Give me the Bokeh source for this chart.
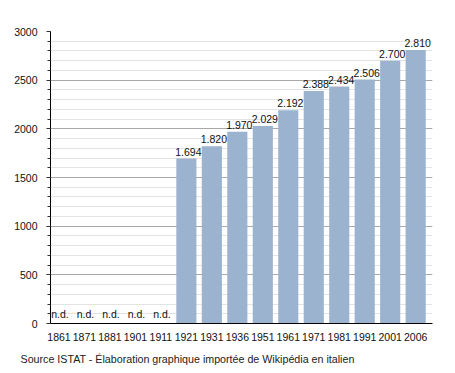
from bokeh.plotting import figure
from bokeh.models import Range1d, FixedTicker, SingleIntervalTicker, ColumnDataSource, LabelSet, Title
from bokeh.core.properties import value
from bokeh.embed import file_html
from bokeh.resources import INLINE

years = ["1861", "1871", "1881", "1901", "1911", "1921", "1931", "1936",
         "1951", "1961", "1971", "1981", "1991", "2001", "2006"]
population = [None, None, None, None, None, 1694, 1820, 1970,
              2029, 2192, 2388, 2434, 2506, 2700, 2810]
footer = "Source ISTAT - Élaboration graphique importée de Wikipédia en italien"

FONT = "Liberation Sans"

idx = list(range(len(years)))
bar_x = [i for i, v in zip(idx, population) if v is not None]
bar_y = [v for v in population if v is not None]
bar_lbl = ["{:,}".format(v).replace(",", ".") for v in bar_y]
nd_x = [i for i, v in zip(idx, population) if v is None]

p = figure(width=440, height=372, output_backend="svg", toolbar_location=None,
           x_range=Range1d(-0.333, 14.66), y_range=Range1d(0, 3000),
           min_border_left=50, min_border_right=8, min_border_top=31, min_border_bottom=48)
p.outline_line_color = None
p.background_fill_color = "white"

src = ColumnDataSource(dict(x=bar_x, top=bar_y, lbl=bar_lbl))
p.vbar(x="x", top="top", bottom=0, width=0.79, source=src,
       fill_color="#9bb3cf", line_color=None)
p.add_layout(LabelSet(x="x", y="top", text="lbl", source=src, text_align="center",
                      text_baseline="bottom", x_offset=2, y_offset=3,
                      text_font_size="10.5px", text_color="#111111", text_font=value(FONT)))

nd_src = ColumnDataSource(dict(x=nd_x, y=[0] * len(nd_x), lbl=["n.d."] * len(nd_x)))
p.add_layout(LabelSet(x="x", y="y", text="lbl", source=nd_src, text_align="center",
                      text_baseline="bottom", x_offset=1, y_offset=4,
                      text_font_size="10.5px", text_color="#111111", text_font=value(FONT)))

# axes
p.xaxis.ticker = FixedTicker(ticks=idx)
p.xaxis.major_label_overrides = {i: y for i, y in zip(idx, years)}
p.xaxis.major_tick_line_color = None
p.xaxis.minor_tick_line_color = None
p.xaxis.axis_line_color = "black"
p.xaxis.major_label_standoff = 3
p.xaxis.major_label_text_font = FONT
p.xaxis.major_label_text_font_size = "10.5px"
p.xaxis.major_label_text_color = "#111111"

p.yaxis.ticker = SingleIntervalTicker(interval=500, num_minor_ticks=5)
p.yaxis.axis_line_color = "black"
p.yaxis.major_tick_in = 0
p.yaxis.major_tick_out = 4
p.yaxis.minor_tick_in = 0
p.yaxis.minor_tick_out = 3
p.yaxis.major_tick_line_color = "#333333"
p.yaxis.minor_tick_line_color = "#333333"
p.yaxis.major_label_standoff = 9
p.yaxis.major_label_text_font = FONT
p.yaxis.major_label_text_font_size = "10.5px"
p.yaxis.major_label_text_color = "#111111"

p.xgrid.grid_line_color = None
p.ygrid.grid_line_color = "#a8a8a8"
p.ygrid.minor_grid_line_color = "#e3e3e3"
p.ygrid.level = "underlay"

p.add_layout(Title(text=footer, align="left", offset=-30, standoff=15,
                   text_font=FONT, text_font_size="10.7px", text_font_style="normal",
                   text_color="#222222"), "below")

open("out.html", "w").write(file_html(p, INLINE))
